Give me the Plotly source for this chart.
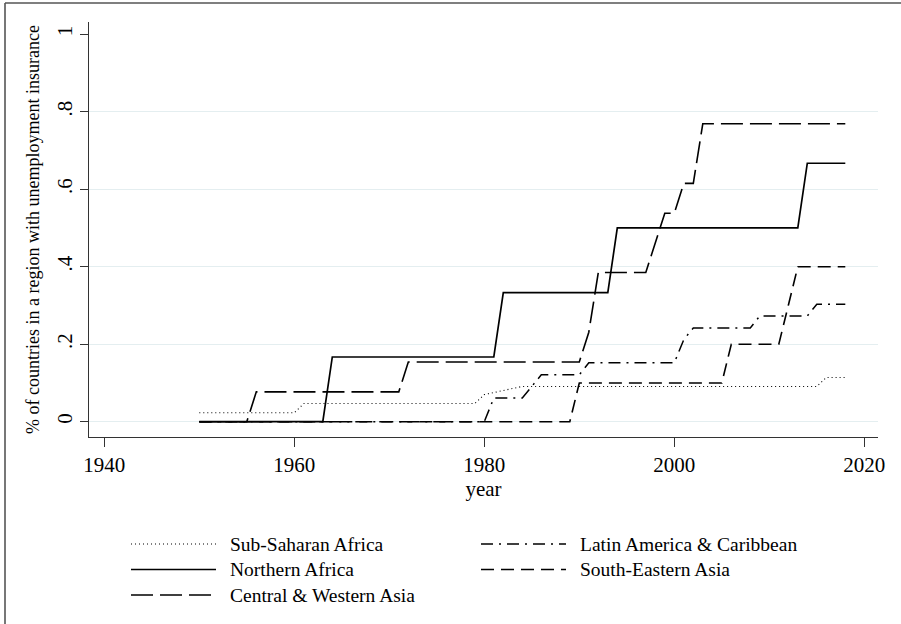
import plotly.graph_objects as go

# ---- data ----
ssa_x = [1950, 1960, 1961, 1979, 1980, 1981, 1982, 1983, 1984, 2015, 2016, 2018]
ssa_y = [0.023, 0.023, 0.047, 0.047, 0.070, 0.075, 0.080, 0.085, 0.091, 0.091, 0.114, 0.114]

lac_x = [1950, 1980, 1981, 1984, 1985, 1986, 1990, 1991, 2000, 2001, 2002, 2008, 2009, 2014, 2015, 2018]
lac_y = [0, 0, 0.061, 0.061, 0.091, 0.121, 0.121, 0.152, 0.152, 0.212, 0.242, 0.242, 0.273, 0.273, 0.303, 0.303]

naf_x = [1950, 1963, 1964, 1981, 1982, 1993, 1994, 2013, 2014, 2018]
naf_y = [0, 0, 0.167, 0.167, 0.333, 0.333, 0.5, 0.5, 0.667, 0.667]

sea_x = [1950, 1989, 1990, 2005, 2006, 2011, 2012, 2013, 2018]
sea_y = [0, 0, 0.1, 0.1, 0.2, 0.2, 0.3, 0.4, 0.4]

cwa_x = [1950, 1955, 1956, 1971, 1972, 1990, 1991, 1992, 1997, 1998, 1999, 2000, 2001, 2002, 2003, 2018]
cwa_y = [0, 0, 0.077, 0.077, 0.154, 0.154, 0.231, 0.385, 0.385, 0.462, 0.538, 0.538, 0.615, 0.615, 0.769, 0.769]

names = ["Sub-Saharan Africa", "Latin America & Caribbean", "Northern Africa",
         "South-Eastern Asia", "Central & Western Asia"]

x_ticks = [1940, 1960, 1980, 2000, 2020]
y_ticks = [0, 0.2, 0.4, 0.6, 0.8, 1]
y_tick_text = ["0", ".2", ".4", ".6", ".8", "1"]
grid_vals = [0, 0.2, 0.4, 0.6, 0.8]

# ---- styles ----
styles = [
    dict(width=1.1, dash="1px,3px"),
    dict(width=1.5, dash="12px,6px,2px,6px"),
    dict(width=1.7, dash="solid"),
    dict(width=1.6, dash="13px,7px"),
    dict(width=1.6, dash="22px,7px"),
]
series = [(ssa_x, ssa_y), (lac_x, lac_y), (naf_x, naf_y), (sea_x, sea_y), (cwa_x, cwa_y)]

FONT = "Liberation Serif"
W, H = 901, 624
L, R, T, B = 89, 878, 22, 437
PW, PH = R - L, B - T

def px(x):
    return (x - L) / PW

def py(y):
    return (B - y) / PH

fig = go.Figure()
# overlay-axis helper trace that only carries the gridlines (no gridline at 1)
fig.add_trace(go.Scatter(x=[1950], y=[0], yaxis="y2", mode="lines",
                         showlegend=False, hoverinfo="skip", line=dict(width=0)))
for (xs, ys), name, st in zip(series, names, styles):
    fig.add_trace(go.Scatter(x=xs, y=ys, mode="lines", name=name,
                             line=dict(color="black", width=st["width"], dash=st["dash"]),
                             showlegend=False))

shapes = []
annotations = []
# manual legend (two columns, Stata style)
SYM_LEN = 85
GAP = 12
text_x = [228, 578, 228, 578, 228]
rows_y = [544, 544, 569.5, 569.5, 595]
for tx, ly, name, st in zip(text_x, rows_y, names, styles):
    shapes.append(dict(type="line", xref="paper", yref="paper",
                       x0=px(tx - GAP - SYM_LEN), x1=px(tx - GAP), y0=py(ly), y1=py(ly),
                       line=dict(color="black", width=st["width"], dash=st["dash"])))
    annotations.append(dict(xref="paper", yref="paper", x=px(tx), y=py(ly),
                            xanchor="left", yanchor="middle", showarrow=False,
                            text=name, font=dict(family=FONT, size=19.5, color="black")))

# outer frame (top and left edges visible)
shapes.append(dict(type="line", xref="paper", yref="paper", x0=px(5), x1=px(905),
                   y0=py(3), y1=py(3), line=dict(color="#555555", width=1.6)))
shapes.append(dict(type="line", xref="paper", yref="paper", x0=px(5), x1=px(5),
                   y0=py(3), y1=py(630), line=dict(color="#555555", width=1.6)))

xr = [1940 - (104.3 - L) / 9.5, 1940 + (R - 104.3) / 9.5]
yr = [-(B - 421.7) / 387.5, (421.7 - T) / 387.5]

fig.update_layout(
    width=W, height=H,
    margin=dict(l=L, r=W - R, t=T, b=H - B),
    paper_bgcolor="white", plot_bgcolor="white",
    font=dict(family=FONT, color="black"),
    xaxis=dict(range=xr, tickvals=x_ticks, ticks="outside", ticklen=9, tickwidth=1,
               tickcolor="#333", showline=True, linecolor="#333", linewidth=1.2,
               showgrid=False, zeroline=False, tickfont=dict(size=21, family=FONT),
               title=dict(text="year", font=dict(size=21, family=FONT), standoff=2)),
    yaxis=dict(range=yr, tickvals=y_ticks, ticktext=y_tick_text, ticks="outside",
               ticklen=8, tickwidth=1, tickcolor="#333", showline=True, linecolor="#333",
               linewidth=1.2, showgrid=False, zeroline=False, tickangle=-90,
               tickfont=dict(size=21, family=FONT),
               title=dict(text="% of countries in a region with unemployment insurance",
                          font=dict(size=18, family=FONT), standoff=8)),
    yaxis2=dict(range=yr, overlaying="y", tickvals=grid_vals, showticklabels=False,
                ticks="", showgrid=True, gridcolor="#e4eef0", gridwidth=1.2,
                zeroline=False, showline=False),
    shapes=shapes, annotations=annotations,
)

fig.write_html(
    "out.html",
    config={"displayModeBar": False},
    post_script="document.body.style.margin='0px';document.body.style.padding='0px';"
                "document.body.style.overflow='hidden';",
)
